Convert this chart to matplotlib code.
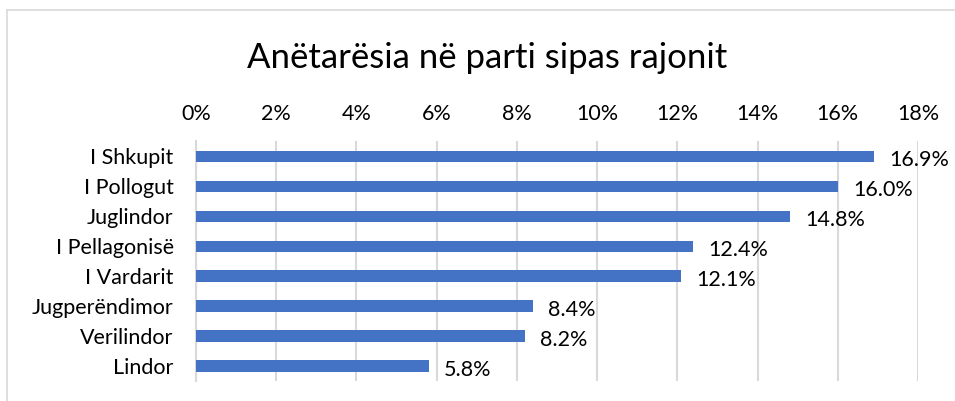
import matplotlib
matplotlib.use("Agg")
import matplotlib.pyplot as plt
from matplotlib.ticker import FuncFormatter

regions = ["I Shkupit", "I Pollogut", "Juglindor", "I Pellagonisë",
           "I Vardarit", "Jugperëndimor", "Verilindor", "Lindor"]
shares = [16.9, 16.0, 14.8, 12.4, 12.1, 8.4, 8.2, 5.8]
x_ticks = [0, 2, 4, 6, 8, 10, 12, 14, 16, 18]
title = "Anëtarësia në parti sipas rajonit"

plt.rcParams["font.family"] = ["Lato", "DejaVu Sans"]

fig = plt.figure(figsize=(9.55, 4.01), dpi=100)
ax = fig.add_axes([0.2052, 0.050, 0.7561, 0.598])

y = list(range(len(regions)))
ax.barh(y, shares, height=0.37, color="#4472C4", zorder=3)
ax.set_ylim(len(regions) - 0.5, -0.5)
ax.set_yticks(y)
ax.set_yticklabels(regions, fontsize=15.5)

ax.set_xlim(0, 18)
ax.set_xticks(x_ticks)
ax.xaxis.set_major_formatter(FuncFormatter(lambda v, _: f"{v:.0f}%"))
ax.xaxis.tick_top()
ax.tick_params(axis="x", length=0, labelsize=15.5, pad=12)
ax.tick_params(axis="y", length=0, pad=16)
ax.grid(axis="x", color="#D9D9D9", linewidth=1.5, zorder=0)

for s in ["top", "right", "bottom"]:
    ax.spines[s].set_visible(False)
ax.spines["left"].set_color("#D9D9D9")
ax.spines["left"].set_linewidth(1.5)

for yi, v in zip(y, shares):
    ax.annotate(f"{v:.1f}%", (v, yi), xytext=(11, -3), textcoords="offset points",
                va="center", ha="left", fontsize=15.5)

fig.text(0.51, 0.855, title, ha="center", va="center", fontsize=25)

# chart frame
fig.add_artist(plt.Line2D([7 / 955, 1], [1 - 10 / 401, 1 - 10 / 401],
                          color="#D9D9D9", lw=1.2, transform=fig.transFigure))
fig.add_artist(plt.Line2D([7 / 955, 7 / 955], [0, 1 - 10 / 401],
                          color="#D9D9D9", lw=1.2, transform=fig.transFigure))

fig.savefig("out.png", dpi=100)
